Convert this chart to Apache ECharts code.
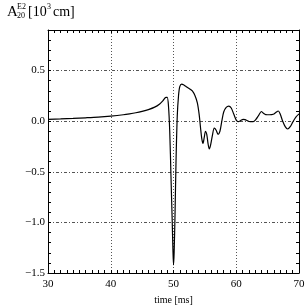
<!DOCTYPE html>
<html>
<head>
<meta charset="utf-8">
<script src="https://cdn.jsdelivr.net/npm/echarts@6/dist/echarts.min.js"></script>
<style>html,body{margin:0;padding:0;background:#fff;}#c{width:305px;height:305px;}</style>
</head>
<body>
<div id="c"></div>
<script>
var time = [30.0,32.0,34.0,36.0,38.0,40.0,42.0,43.0,44.0,45.0,46.0,47.0,47.8,48.3,48.8,49.0,49.2,49.4,49.6,49.8,49.9,50.0,50.1,50.25,50.4,50.6,50.8,51.0,51.3,51.7,52.1,52.6,53.0,53.4,53.8,54.1,54.3,54.5,54.7,54.9,55.1,55.3,55.5,55.7,55.9,56.2,56.5,56.8,57.1,57.4,57.7,58.0,58.4,58.8,59.2,59.6,60.0,60.3,60.7,61.1,61.4,61.8,62.2,62.7,63.1,63.6,64.0,64.3,64.7,65.3,65.9,66.3,66.7,67.0,67.4,67.8,68.2,68.6,69.0,69.5,70.0];
var amp = [0.018,0.022,0.027,0.033,0.040,0.050,0.063,0.072,0.083,0.097,0.114,0.138,0.170,0.200,0.235,0.235,0.15,-0.10,-0.55,-1.00,-1.25,-1.42,-1.30,-0.90,-0.40,0.05,0.25,0.34,0.366,0.355,0.338,0.318,0.298,0.255,0.18,0.06,-0.06,-0.17,-0.22,-0.16,-0.10,-0.13,-0.22,-0.275,-0.24,-0.14,-0.07,-0.09,-0.13,-0.10,0.00,0.09,0.135,0.148,0.13,0.07,0.01,-0.005,0.005,0.018,0.015,0.003,-0.005,-0.005,0.015,0.06,0.095,0.08,0.065,0.063,0.068,0.085,0.10,0.07,0.00,-0.055,-0.078,-0.055,-0.01,0.04,0.072];
var xTickLabels = [30,40,50,60,70];
var yTickLabels = [-1.5,-1.0,-0.5,0.0,0.5];

var pts = time.map(function(t,i){return [t, amp[i]];});
var serif = '"Liberation Serif","DejaVu Serif",serif';
function fmtY(v){
  var r = Math.round(v*10)/10;
  for (var i=0;i<yTickLabels.length;i++){ if (Math.abs(yTickLabels[i]-r)<1e-6 && Math.abs(v-r)<1e-6) return (r<0?'\u2212':'')+Math.abs(r).toFixed(1); }
  return '';
}
function fmtX(v){
  for (var i=0;i<xTickLabels.length;i++){ if (Math.abs(xTickLabels[i]-v)<1e-6) return String(xTickLabels[i]); }
  return '';
}
var frame = {onZero:false,lineStyle:{color:'#000',width:1}};
var chart = echarts.init(document.getElementById('c'), null, {renderer:'canvas'});
chart.setOption({
  animation:false,
  backgroundColor:'#fff',
  grid:{left:48,right:6,top:30,bottom:32,containLabel:false,outerBoundsMode:'none'},
  xAxis:[
    {type:'value',position:'bottom',min:30,max:70,interval:1,
     axisLine:frame,axisTick:{inside:true,length:3,lineStyle:{color:'#000'}},
     axisLabel:{formatter:fmtX,color:'#000',fontFamily:serif,fontSize:11,margin:6,showMinLabel:true,showMaxLabel:true},
     splitLine:{show:false},
     name:'time [ms]',nameLocation:'middle',nameGap:21,nameTextStyle:{color:'#000',fontFamily:serif,fontSize:10}},
    {type:'value',position:'top',min:30,max:70,interval:1,
     axisLine:frame,axisTick:{inside:true,length:3,lineStyle:{color:'#000'}},
     axisLabel:{show:false},splitLine:{show:false}},
    {type:'value',position:'bottom',min:30,max:70,interval:10,
     axisLine:{show:false,onZero:false},axisTick:{show:false},axisLabel:{show:false},
     splitLine:{show:true,lineStyle:{color:'#555',width:1,type:[1,2]}}}
  ],
  yAxis:[
    {type:'value',position:'left',min:-1.5,max:0.9,interval:0.1,
     axisLine:frame,axisTick:{inside:true,length:3,lineStyle:{color:'#000'}},
     axisLabel:{formatter:fmtY,color:'#000',fontFamily:serif,fontSize:11,margin:3,showMaxLabel:false},
     splitLine:{show:false}},
    {type:'value',position:'right',min:-1.5,max:0.9,interval:0.1,
     axisLine:frame,axisTick:{inside:true,length:3,lineStyle:{color:'#000'}},
     axisLabel:{show:false},splitLine:{show:false}},
    {type:'value',position:'left',min:-1.5,max:0.9,interval:0.5,
     axisLine:{show:false,onZero:false},axisTick:{show:false},axisLabel:{show:false},
     splitLine:{show:true,lineStyle:{color:'#555',width:1,type:[3,2,1,2]}}}
  ],
  series:[{
    type:'line',xAxisIndex:0,yAxisIndex:0,data:pts,showSymbol:false,
    smooth:0.3,lineStyle:{color:'#000',width:1.2},z:5
  }],
  graphic:[
    {type:'text',left:7,top:5,style:{text:'A',font:'15px '+serif,fill:'#000'}},
    {type:'text',left:17,top:3,style:{text:'E2',font:'8px '+serif,fill:'#000'}},
    {type:'text',left:17,top:12,style:{text:'20',font:'8px '+serif,fill:'#000'}},
    {type:'text',left:28,top:5,style:{text:'[10',font:'14px '+serif,fill:'#000'}},
    {type:'text',left:47,top:3,style:{text:'3',font:'8px '+serif,fill:'#000'}},
    {type:'text',left:53,top:5,style:{text:'cm]',font:'14px '+serif,fill:'#000'}}
  ]
});
</script>
</body>
</html>
